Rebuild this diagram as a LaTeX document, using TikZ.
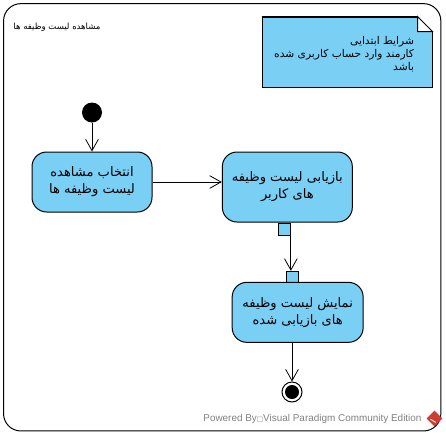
\documentclass[tikz,border=0pt]{standalone}
\usepackage{fontspec}
\setmainfont{Liberation Sans}
\newfontfamily\arabicfont[Script=Arabic]{DejaVu Sans}
\newfontfamily\boxfont{DejaVu Sans}
\TeXXeTstate=1
\usetikzlibrary{shapes.geometric,arrows.meta,positioning,calc}
\definecolor{actioncolor}{RGB}{122,207,245}
\definecolor{creditcolor}{RGB}{128,128,128}
\definecolor{logocolor}{RGB}{205,60,50}
\newcommand{\faline}[1]{{\arabicfont\beginR #1\endR}}

\begin{document}
\begin{tikzpicture}[
    x=0.75pt, y=0.75pt,
    line width=0.75pt,
    action/.style={rectangle, rounded corners=11pt, draw, fill=actioncolor, minimum width=90pt, minimum height=45pt, align=center, inner sep=0pt, font=\fontsize{9.8}{12.8}\selectfont},
    pin/.style={rectangle, draw, fill=actioncolor, minimum size=9pt, inner sep=0pt},
    arrow/.style={-{Straight Barb[length=8.5pt,width=9.5pt,line width=0.6pt]}},
    smalltext/.style={align=right, inner sep=0pt, font=\fontsize{6.4}{9.8}\selectfont}
]
\useasboundingbox (0,0) rectangle (446,-436);

% Frame
\node[rectangle, rounded corners=13pt, draw, minimum width=328pt, minimum height=320.5pt, inner sep=0pt] (frame) at (222.2,-217.3) {};

% Title
\node[smalltext, anchor=east] (title) at (101,-27) {\faline{مشاهده لیست وظیفه ها}};

% Note
\node[rectangle, draw, fill=actioncolor, minimum width=127.5pt, minimum height=52.5pt, inner sep=0pt] (note) at (347,-52) {};
\fill[white] (note.north east) rectangle ([xshift=-11.25pt,yshift=-11.25pt]note.north east);
\draw ([xshift=-11.25pt]note.north east) -- ([xshift=-11.25pt,yshift=-11.25pt]note.north east) -- ([yshift=-11.25pt]note.north east) -- cycle;
\draw (note.north west) -- ([xshift=-11.25pt]note.north east);
\draw ([yshift=-11.25pt]note.north east) -- (note.south east);
\node[smalltext, font=\fontsize{8}{9.8}\selectfont, anchor=north east] (notetext) at (414.5,-36) {\faline{شرایط ابتدایی}\hspace{2pt}\\\faline{کارمند وارد حساب کاربری شده}\hspace{2pt}\\\faline{باشد}};

% Start
\node[circle, fill=black, minimum size=15pt, inner sep=0pt] (start) at (92,-112.5) {};

% Actions
\node[action] (select) at (92,-182) {\faline{انتخاب مشاهده}\\\faline{لیست وظیفه ها}};
\node[action, minimum width=97.5pt, minimum height=52.5pt, right=52pt of select.north east, anchor=north west] (fetch) {\faline{بازیابی لیست وظیفه}\\\faline{های کاربر}};
\node[pin, below=0pt of fetch.south, xshift=-2.25pt] (pinout) {};
\node[pin, below=26.5pt of pinout.south, xshift=6pt] (pinin) {};
\node[action, minimum width=98.25pt, below=-1.5pt of pinin.south, anchor=north, xshift=4pt] (show) {\faline{نمایش لیست وظیفه}\\\faline{های بازیابی شده}};

% End
\node[circle, draw, fill=white, minimum size=15pt, inner sep=0pt] (stop) at (292,-392) {};
\node[circle, fill=black, minimum size=10.5pt, inner sep=0pt] (stopdot) at (stop.center) {};

% Credit
\node[anchor=east, inner sep=0pt, text=creditcolor, font=\fontsize{7.45}{9}\selectfont] (credit) at (422,-419) {Powered By{\boxfont\fontsize{5}{8}\selectfont □}Visual Paradigm Community Edition};
\node[diamond, fill=logocolor, minimum size=12pt, inner sep=0pt] (logo) at (434.5,-418.5) {};
\draw[white, line width=0.6pt] ([xshift=-3pt,yshift=-0.5pt]logo.center) -- ([xshift=1pt,yshift=-3pt]logo.center);

% Arrows
\draw[arrow] (start) -- (select);
\draw[arrow] (select.east) -- (select.east -| fetch.west);
\draw[arrow] (pinout.south east) -- (pinout.south east |- pinin.north);
\draw[arrow] (show.south -| stop.north) -- (stop.north);

\end{tikzpicture}
\end{document}
